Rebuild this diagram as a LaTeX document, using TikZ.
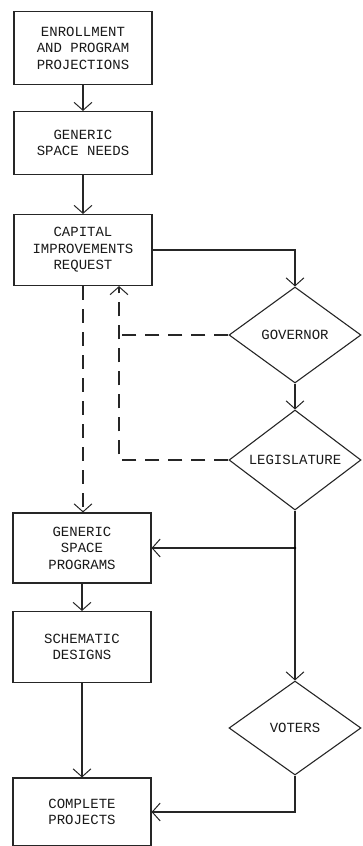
\documentclass[tikz,border=0pt]{standalone}
\usepackage{fontspec}
\setmonofont{Liberation Mono}
\usetikzlibrary{arrows.meta,shapes.geometric}

\begin{document}
\begin{tikzpicture}[x=1pt,y=-1pt,line width=1.1pt,draw=black!85,
	box/.style={draw,rectangle,minimum width=138pt,inner sep=2pt,align=center,
		font=\ttfamily\fontsize{14}{16.5}\selectfont,text=black!90},
	dec/.style={draw,diamond,aspect=1.4,inner sep=0pt,minimum width=132pt,minimum height=96pt,
		font=\ttfamily\fontsize{14}{16.5}\selectfont,text=black!90},
	arr/.style={-{Straight Barb[length=8pt,width=18pt,line width=1pt]}},
	back/.style={dash pattern=on 14pt off 9pt}]
	\useasboundingbox (0,0) rectangle (362,846);
	\path
	(83,48) node[box,minimum height=73pt] (enroll) {ENROLLMENT\\AND PROGRAM\\PROJECTIONS}
	(83,143) node[box,minimum height=63pt] (needs) {GENERIC\\SPACE NEEDS}
	(83,250) node[box,minimum height=71pt] (capital) {CAPITAL\\IMPROVEMENTS\\REQUEST}
	(295,335) node[dec] (governor) {GOVERNOR}
	(295,460) node[dec,minimum height=100pt] (legis) {LEGISLATURE}
	(82,548) node[box,minimum height=70pt] (programs) {GENERIC\\SPACE\\PROGRAMS}
	(82,647) node[box,minimum height=71pt] (schematic) {SCHEMATIC\\DESIGNS}
	(295,728) node[dec,minimum height=94pt] (voters) {VOTERS}
	(82,812) node[box,minimum height=68pt] (complete) {COMPLETE\\PROJECTS}
	(119,460) coordinate (ret)
	;
	\path (legis.south |- programs.east) coordinate (tap);
	\draw[arr] (enroll) -- (needs);
	\draw[arr] (needs) -- (capital);
	\draw[arr] (capital.east) -| (governor.north);
	\draw[arr] (governor) -- (legis);
	\draw[arr,back] (capital.south) -- (capital.south |- programs.north);
	\draw[arr,back] (legis.west) -- (ret) -- (ret |- capital.south);
	\draw[back] (governor.west) -- (governor.west -| ret);
	\draw[arr] (legis) -- (voters);
	\draw[arr] (tap) -- (programs.east);
	\fill (tap) circle (1.3);
	\draw[arr] (programs) -- (schematic);
	\draw[arr] (schematic) -- (complete);
	\draw[arr] (voters.south) |- (complete.east);
\end{tikzpicture}
\end{document}
